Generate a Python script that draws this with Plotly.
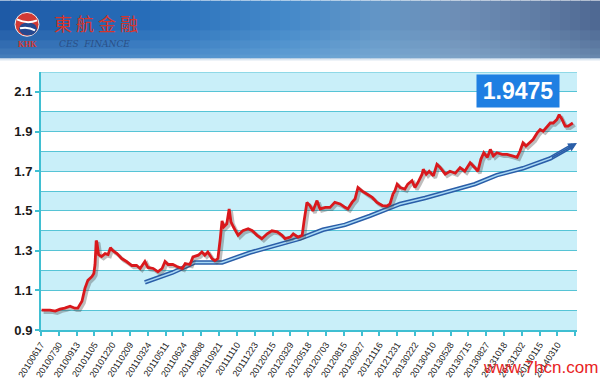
import plotly.graph_objects as go

# ---------------- data ----------------
tick_labels = ["20100617", "20100730", "20100913", "20101105", "20101220", "20110209",
               "20110324", "20110511", "20110624", "20110808", "20110921", "20111110",
               "20111223", "20120215", "20120329", "20120518", "20120703", "20120815",
               "20120927", "20121116", "20121231", "20130222", "20130410", "20130528",
               "20130715", "20130827", "20131018", "20131202", "20140115", "20140310"]
tick_step = 30  # trading days between labels

# trading-day index and value of the CNY index line
red_day = [1, 15, 24, 32, 40, 49, 57, 62, 69, 74, 79, 86, 89, 91, 93, 94, 97, 102, 108, 113,
           117, 121, 128, 136, 144, 153, 161, 167, 175, 180, 189, 197, 204, 209, 214, 222, 229,
           238, 243, 251, 256, 265, 271, 276, 281, 288, 293, 298, 302, 305, 308, 313, 317, 320,
           324, 332, 340, 349, 356, 364, 372, 381, 389, 398, 406, 411, 420, 425, 433, 440, 443,
           448, 453, 458, 465, 470, 479, 487, 495, 504, 512, 517, 524, 529, 534, 541, 549, 558,
           566, 575, 583, 588, 593, 596, 600, 605, 613, 618, 625, 630, 635, 642, 644, 649, 654,
           661, 667, 672, 681, 689, 698, 706, 714, 723, 731, 736, 741, 746, 752, 757, 762, 768,
           777, 785, 794, 802, 807, 812, 817, 822, 829, 836, 841, 846, 853, 858, 863, 869, 873,
           878, 883, 888, 896]
red_val = [1.00, 1.00, 0.995, 1.005, 1.01, 1.02, 1.01, 1.01, 1.045, 1.11, 1.15, 1.17, 1.185,
           1.23, 1.35, 1.345, 1.28, 1.27, 1.285, 1.28, 1.315, 1.30, 1.285, 1.26, 1.245, 1.225,
           1.225, 1.21, 1.245, 1.215, 1.21, 1.193, 1.21, 1.245, 1.23, 1.23, 1.22, 1.21, 1.235,
           1.23, 1.268, 1.277, 1.293, 1.277, 1.293, 1.26, 1.25, 1.26, 1.36, 1.45, 1.42, 1.435,
           1.51, 1.445, 1.42, 1.377, 1.40, 1.41, 1.40, 1.377, 1.36, 1.385, 1.40, 1.395, 1.377,
           1.36, 1.368, 1.385, 1.368, 1.377, 1.445, 1.543, 1.527, 1.50, 1.552, 1.51, 1.518,
           1.518, 1.543, 1.535, 1.518, 1.51, 1.543, 1.56, 1.618, 1.60, 1.585, 1.568, 1.543,
           1.527, 1.525, 1.535, 1.585, 1.60, 1.635, 1.618, 1.61, 1.635, 1.652, 1.618, 1.643,
           1.685, 1.71, 1.685, 1.70, 1.677, 1.735, 1.72, 1.685, 1.70, 1.69, 1.718, 1.70, 1.743,
           1.718, 1.70, 1.76, 1.793, 1.77, 1.81, 1.777, 1.793, 1.785, 1.785, 1.777, 1.77, 1.802,
           1.843, 1.827, 1.843, 1.86, 1.893, 1.91, 1.902, 1.927, 1.943, 1.943, 1.96, 1.985, 1.96,
           1.927, 1.927, 1.943]

trend_day = [175, 222, 259, 305, 352, 436, 475, 512, 554, 605, 647, 689, 731, 768, 812, 858, 896]
trend_val = [1.14, 1.19, 1.24, 1.24, 1.29, 1.36, 1.405, 1.43, 1.475, 1.535, 1.565, 1.60, 1.635,
             1.68, 1.715, 1.765, 1.83]

latest_value = "1.9475"

y_ticks = [0.9, 1.1, 1.3, 1.5, 1.7, 1.9, 2.1]

# ---------------- layout helpers ----------------
W, H = 600, 391
ML, MR, MT, MB = 41, 23, 72, 59
PW, PH = W - ML - MR, H - MT - MB
X_RANGE = [0, 903]
Y_RANGE = [0.9, 2.2]


def px_x(px):
    return (px - ML) / PW


def px_y(py):
    return (H - MB - py) / PH


fig = go.Figure()

# shadow of the index line (drawn on an offset overlay axis)
fig.add_trace(go.Scatter(x=red_day, y=red_val, mode="lines", xaxis="x2", yaxis="y2",
                         line=dict(color="rgba(70,70,70,0.35)", width=3.5),
                         hoverinfo="skip", showlegend=False))

# trend arrow (double line)
fig.add_trace(go.Scatter(x=trend_day, y=trend_val, mode="lines",
                         line=dict(color="#2a5ea8", width=4.5), showlegend=False))
fig.add_trace(go.Scatter(x=trend_day, y=trend_val, mode="lines",
                         line=dict(color="#a8d8f4", width=1.5), showlegend=False))

# index line
fig.add_trace(go.Scatter(x=red_day, y=red_val, mode="lines", xaxis="x3", yaxis="y3",
                         line=dict(color="#d9181c", width=2.8), showlegend=False))

shapes = []
# alternating bands
v = 0.9
while v < 2.2 - 1e-9:
    shapes.append(dict(type="rect", xref="paper", yref="y", x0=0, x1=1, y0=v, y1=v + 0.1,
                       fillcolor="#c9eff9", line=dict(width=0), layer="below"))
    v += 0.2
shapes.append(dict(type="line", xref="paper", yref="y", x0=0, x1=1, y0=2.2, y1=2.2,
                   line=dict(color="#56c4d6", width=1.2)))

# header gradient
stops = [(0, (30, 90, 166)), (150, (40, 110, 186)), (290, (70, 138, 202)),
         (380, (100, 150, 198)), (460, (110, 142, 182)), (540, (96, 124, 164)),
         (600, (78, 104, 146))]


def col_at(px):
    for (a, ca), (b, cb) in zip(stops[:-1], stops[1:]):
        if a <= px <= b:
            t = (px - a) / (b - a)
            return tuple(int(ca[i] + (cb[i] - ca[i]) * t) for i in range(3))
    return stops[-1][1]


HB = 58
n = 60
for i in range(n):
    x0 = i * W / n
    x1 = (i + 1) * W / n + 0.6
    c = col_at((x0 + x1) / 2)
    shapes.append(dict(type="rect", xref="paper", yref="paper", x0=px_x(x0), x1=px_x(x1),
                       y0=px_y(HB), y1=px_y(0), fillcolor="rgb(%d,%d,%d)" % c,
                       line=dict(width=0), layer="below"))
# lighter lower part of header
for k, (a, b, al) in enumerate([(30, 40, 0.08), (40, 48, 0.15), (48, 54, 0.22), (54, HB, 0.28)]):
    shapes.append(dict(type="rect", xref="paper", yref="paper", x0=px_x(0), x1=px_x(W),
                       y0=px_y(b), y1=px_y(a), fillcolor="rgba(170,215,240,%g)" % al,
                       line=dict(width=0), layer="below"))
# soft fade under header
for k, al in enumerate([0.35, 0.2, 0.1]):
    shapes.append(dict(type="rect", xref="paper", yref="paper", x0=px_x(0), x1=px_x(W),
                       y0=px_y(HB + k + 1), y1=px_y(HB + k), fillcolor="rgba(90,140,190,%g)" % al,
                       line=dict(width=0), layer="below"))

# logo
shapes.append(dict(type="circle", xref="paper", yref="paper", x0=px_x(15), x1=px_x(39),
                   y0=px_y(36), y1=px_y(12), fillcolor="#d23a34", line=dict(color="#f0f0f0", width=1)))
shapes.append(dict(type="circle", xref="paper", yref="paper", x0=px_x(19), x1=px_x(37),
                   y0=px_y(35), y1=px_y(22), fillcolor="#25488f", line=dict(width=0)))
shapes.append(dict(type="path", xref="paper", yref="paper",
                   path="M %f %f Q %f %f %f %f" % (px_x(17), px_y(19), px_x(27), px_y(24),
                                                  px_x(37), px_y(20)),
                   line=dict(color="white", width=2)))
shapes.append(dict(type="path", xref="paper", yref="paper",
                   path="M %f %f Q %f %f %f %f" % (px_x(20), px_y(28), px_x(28), px_y(26),
                                                  px_x(35), px_y(30)),
                   line=dict(color="white", width=2)))

annotations = [
    dict(xref="paper", yref="paper", x=px_x(52), y=px_y(23), xanchor="left", yanchor="middle",
         text="東 航 金 融", showarrow=False,
         font=dict(family="Noto Sans CJK TC", size=18, color="#d6352c")),
    dict(xref="paper", yref="paper", x=px_x(57), y=px_y(44), xanchor="left", yanchor="middle",
         text="<i>CES  FINANCE</i>", showarrow=False,
         font=dict(family="DejaVu Serif", size=9, color="#2a4f86")),
    dict(xref="paper", yref="paper", x=px_x(27), y=px_y(44), xanchor="center", yanchor="middle",
         text="<b>KHK</b>", showarrow=False,
         font=dict(family="Liberation Serif", size=8, color="#d6352c")),
    # latest value box
    dict(xref="paper", yref="paper", x=px_x(518), y=px_y(91), xanchor="center", yanchor="middle",
         text="<b>%s</b>" % latest_value, showarrow=False, width=82, height=32,
         bgcolor="#1f7fe2", borderpad=0,
         font=dict(family="Liberation Sans", size=23, color="white")),
    # arrow head of trend line
    dict(xref="x", yref="y", axref="x", ayref="y", x=trend_day[-1] + 7, y=trend_val[-1] + 0.012,
         ax=trend_day[-2], ay=trend_val[-2], text="", showarrow=True, arrowhead=2,
         arrowsize=1.1, arrowwidth=1.6, arrowcolor="#2a5ea8", standoff=0),
    # watermark
    dict(xref="paper", yref="paper", x=px_x(600), y=px_y(370), xanchor="right", yanchor="middle",
         text="www.7hcn.com", showarrow=False,
         font=dict(family="Liberation Sans", size=17, color="#e8231e")),
]

axis_col = "#3fbfd2"
fig.update_layout(
    width=W, height=H, margin=dict(l=ML, r=MR, t=MT, b=MB),
    paper_bgcolor="white", plot_bgcolor="white",
    shapes=shapes, annotations=annotations, showlegend=False,
    xaxis=dict(range=X_RANGE, tickmode="array",
               tickvals=[i * tick_step for i in range(len(tick_labels) + 1)],
               ticktext=tick_labels + [""], tickangle=-57,
               tickfont=dict(family="Liberation Sans", size=9, color="#222"),
               showgrid=False, zeroline=False, showline=True, linecolor=axis_col, linewidth=2,
               ticks="outside", ticklen=4, tickcolor=axis_col, tickwidth=2),
    yaxis=dict(range=Y_RANGE, tickmode="array", tickvals=y_ticks,
               ticktext=["%.1f" % t for t in y_ticks],
               tickfont=dict(family="Liberation Sans", size=13, color="#1a1a1a", weight="bold"),
               showgrid=True, gridcolor="#56c4d6", gridwidth=1,
               minor=dict(dtick=0.1, tick0=0.9, showgrid=True, gridcolor="#56c4d6", gridwidth=1),
               zeroline=False, showline=True, linecolor=axis_col, linewidth=2,
               ticks="outside", ticklen=4, tickcolor=axis_col, tickwidth=2),
    xaxis2=dict(overlaying="x", range=[X_RANGE[0] - 3.4, X_RANGE[1] - 3.4], visible=False),
    yaxis2=dict(overlaying="y", range=[Y_RANGE[0] + 0.01, Y_RANGE[1] + 0.01], visible=False),
    xaxis3=dict(overlaying="x", range=X_RANGE, visible=False),
    yaxis3=dict(overlaying="y", range=Y_RANGE, visible=False),
)

fig.write_html("out.html")
